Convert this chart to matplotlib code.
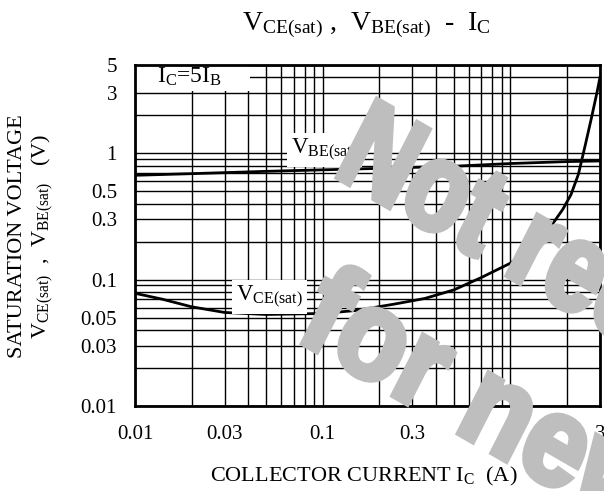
#!/usr/bin/env python3
"""Saturation voltage vs collector current (log-log), with grey stamp overlay."""
import matplotlib
matplotlib.use("Agg")
import matplotlib.pyplot as plt
from matplotlib.ticker import FixedLocator, LogLocator, NullFormatter, FixedFormatter
from matplotlib.textpath import TextPath
from matplotlib.patches import PathPatch, Rectangle
from matplotlib.font_manager import FontProperties
from matplotlib.transforms import Affine2D, IdentityTransform

plt.rcParams["font.family"] = ["Liberation Serif", "DejaVu Serif"]
plt.rcParams["mathtext.default"] = "regular"

# V_BE(sat) vs I_C  (I_C = 5 I_B)
ic_be = [0.01, 0.02, 0.05, 0.1, 0.2, 0.5, 1.0, 2.0, 3.0]
vbe_sat = [0.67, 0.69, 0.72, 0.74, 0.76, 0.79, 0.83, 0.86, 0.87]

# V_CE(sat) vs I_C
ic_ce = [0.01, 0.014, 0.02, 0.03, 0.05, 0.1, 0.15, 0.24, 0.35, 0.5, 0.7,
         1.0, 1.33, 1.6, 1.9, 2.1, 2.3, 2.5, 2.7, 2.9, 3.0]
vce_sat = [0.078, 0.070, 0.061, 0.055, 0.053, 0.054, 0.057, 0.064, 0.071,
           0.083, 0.104, 0.135, 0.185, 0.25, 0.36, 0.47, 0.68, 1.15, 1.9,
           3.1, 4.0]

x_ticks = [0.01, 0.03, 0.1, 0.3, 1, 3]
x_labels = ["0.01", "0.03", "0.1", "0.3", "1", "3"]
y_ticks = [0.01, 0.03, 0.05, 0.1, 0.3, 0.5, 1, 3, 5]
y_labels = ["0.01", "0.03", "0.05", "0.1", "0.3", "0.5", "1", "3", "5"]

stamp_lines = ["Not recommended", "for new design"]

W, H = 604, 491
fig = plt.figure(figsize=(W / 100, H / 100), dpi=100)
ax = fig.add_axes([135 / W, 1 - 406 / H, 465 / W, 341 / H])

ax.set_xscale("log")
ax.set_yscale("log")
ax.set_xlim(0.01, 3)
ax.set_ylim(0.01, 5)

ax.xaxis.set_major_locator(FixedLocator(x_ticks))
ax.xaxis.set_major_formatter(FixedFormatter(x_labels))
ax.yaxis.set_major_locator(FixedLocator(y_ticks))
ax.yaxis.set_major_formatter(FixedFormatter(y_labels))
for axis in (ax.xaxis, ax.yaxis):
    axis.set_minor_locator(LogLocator(base=10, subs=range(1, 10), numticks=20))
    axis.set_minor_formatter(NullFormatter())
ax.tick_params(which="both", length=0, labelsize=15)
ax.tick_params(axis="x", pad=14)
ax.tick_params(axis="y", pad=13)

ax.grid(which="minor", color="black", lw=1.0)
ax.grid(which="major", color="black", lw=1.0)
ax.set_axisbelow(True)
for s in ax.spines.values():
    s.set_linewidth(2)
    s.set_zorder(5)

ax.plot(ic_be, vbe_sat, color="black", lw=2, zorder=3)
ax.plot(ic_ce, vce_sat, color="black", lw=2, zorder=3)

# condition note in a white patch over the top-left grid cells
ax.add_patch(Rectangle((0, 1 - 26 / 341), 115 / 465, 26 / 341, transform=ax.transAxes,
                       fc="white", ec="none", zorder=2.5))
ax.text(22 / 465, 1 - 12 / 341, "$I_C$=5$I_B$", transform=ax.transAxes,
        fontsize=17, va="center", ha="left", zorder=4)

box = dict(fc="white", ec="none", pad=3)
ax.text(0.068, 1.06, "$V_{BE(sat)}$", fontsize=16.5, va="center", ha="left",
        bbox=box, zorder=4)
ax.text(0.0345, 0.073, "$V_{CE(sat)}$", fontsize=16.5, va="center", ha="left",
        bbox=box, zorder=4)

fig.text(366 / W, 1 - 25 / H, "$V_{CE(sat)}$ ,  $V_{BE(sat)}$  -  $I_C$",
         fontsize=20, ha="center", va="center")
fig.text(364 / W, 1 - 476 / H, "COLLECTOR CURRENT I$_C$  (A)",
         fontsize=16, ha="center", va="center")
fig.text(18 / W, 1 - 236 / H, "SATURATION VOLTAGE", rotation=90,
         fontsize=16, ha="center", va="center")
fig.text(42 / W, 1 - 236 / H, "$V_{CE(sat)}$  ,  $V_{BE(sat)}$   (V)",
         rotation=90, fontsize=16, ha="center", va="center")

# grey stamp drawn over everything, as condensed heavy outlines
stamp_font = FontProperties(family="Liberation Sans", weight="bold")
starts = [(332, H - 174), (294, H - 338)]
widths = [0.8, 0.9]
for line, (x0, y0), sx in zip(stamp_lines, starts, widths):
    tp = TextPath((0, 0), line, size=126, prop=stamp_font)
    tr = Affine2D().scale(sx, 1).skew_deg(-3, 0).rotate_deg(-30).translate(x0, y0)
    fig.add_artist(PathPatch(tr.transform_path(tp), transform=IdentityTransform(),
                             fc="#bebebe", ec="#bebebe", lw=4.5, joinstyle="miter",
                             zorder=10))

fig.savefig("out.png", dpi=100)
